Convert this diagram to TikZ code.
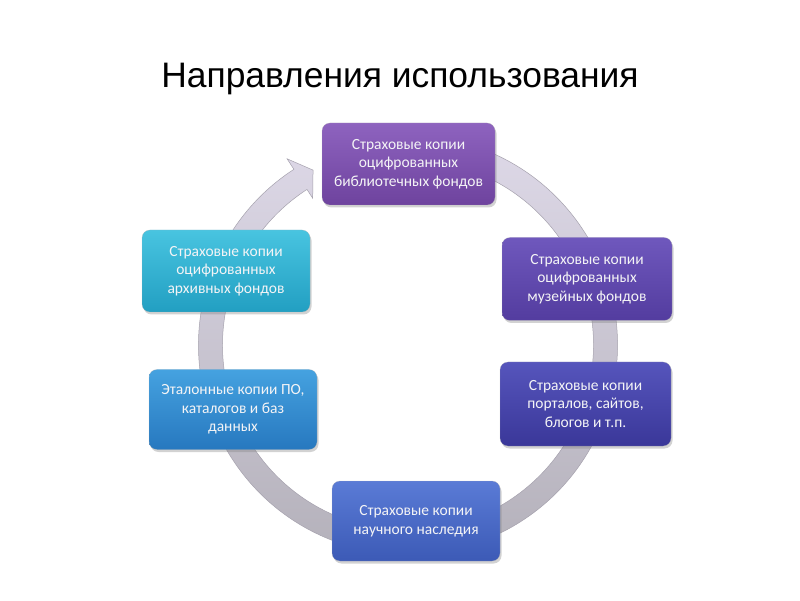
\documentclass[tikz,border=0pt]{standalone}
\usepackage{fontspec}
\setmainfont{Liberation Sans}
\newfontfamily\boxfont{Carlito}
\usetikzlibrary{shadows,calc}
\definecolor{ringtop}{HTML}{DDD8E7}
\definecolor{ringbot}{HTML}{B2AFB8}
\definecolor{ringedge}{HTML}{A6A2AE}
\definecolor{cAt}{HTML}{8E63BF}\definecolor{cAb}{HTML}{6E439E}
\definecolor{cBt}{HTML}{6F58BD}\definecolor{cBb}{HTML}{533C9F}
\definecolor{cCt}{HTML}{5655BC}\definecolor{cCb}{HTML}{3A3799}
\definecolor{cDt}{HTML}{5A7BD6}\definecolor{cDb}{HTML}{3C5AB6}
\definecolor{cEt}{HTML}{45A2E0}\definecolor{cEb}{HTML}{2778BF}
\definecolor{cFt}{HTML}{48C4E0}\definecolor{cFb}{HTML}{229FC2}
\definecolor{boxtext}{HTML}{F4F4F6}
\tikzset{
  box/.style={rounded corners=8pt, inner sep=0pt, align=center,
    text=boxtext, font=\boxfont\fontsize{15.5}{18.5}\selectfont,
    drop shadow={shadow xshift=1.5pt, shadow yshift=-2.5pt, opacity=0.35},
    draw=white!70!black, draw opacity=0.5, line width=0.4pt},
  ring/.style={top color=ringtop, bottom color=ringbot, draw=ringedge, line width=0.5pt},
  title/.style={font=\fontsize{35.4}{40}\selectfont, text=black, anchor=base, inner sep=0pt}
}
\begin{document}
\begin{tikzpicture}[x=1pt,y=1pt]
\useasboundingbox (0,0) rectangle (800,600);
\fill[white] (0,0) rectangle (800,600);
\node[title] (t) at (400,512) {Направления использования};
\coordinate (rc) at (408,255);
\shade[ring]
  ($(rc)+(75:209.5)$) arc[start angle=75, end angle=-237, radius=209.5]
  -- ($(rc)+(123:222)$) -- ($(rc)+(118.5:199)$) -- ($(rc)+(123:175)$)
  -- ($(rc)+(123:185.5)$) arc[start angle=-237, end angle=75, radius=185.5] -- cycle;
\node[box, top color=cAt, bottom color=cAb, minimum width=173pt, minimum height=82pt] (b1) at (408.5,436)
  {Страховые копии\\оцифрованных\\библиотечных фондов};
\node[box, top color=cBt, bottom color=cBb, minimum width=170pt, minimum height=83pt] (b2) at (587,321)
  {Страховые копии\\оцифрованных\\музейных фондов};
\node[box, top color=cCt, bottom color=cCb, minimum width=171pt, minimum height=84pt] (b3) at (585.5,196)
  {Страховые копии\\порталов, сайтов,\\блогов и т.п.};
\node[box, top color=cDt, bottom color=cDb, minimum width=168pt, minimum height=80pt] (b4) at (416,79)
  {Страховые копии\\научного наследия};
\node[box, top color=cEt, bottom color=cEb, minimum width=168pt, minimum height=80pt] (b5) at (233,190.5)
  {Эталонные копии ПО,\\каталогов и баз\\данных};
\node[box, top color=cFt, bottom color=cFb, minimum width=168pt, minimum height=82pt] (b6) at (226,329)
  {Страховые копии\\оцифрованных\\архивных фондов};
\end{tikzpicture}
\end{document}
